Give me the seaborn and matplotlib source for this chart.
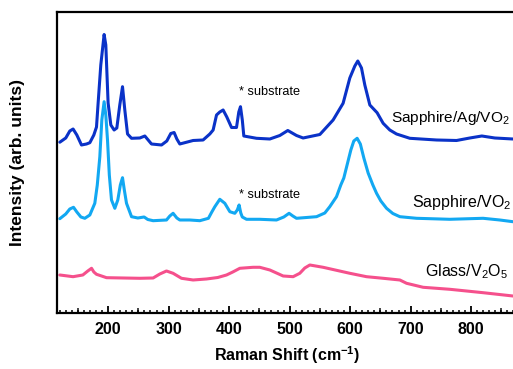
import matplotlib
matplotlib.use('Agg')
import matplotlib.pyplot as plt
from matplotlib.ticker import MultipleLocator, FixedLocator, FuncFormatter
import seaborn as sns
import pandas as pd

# Sapphire/Ag/VO2 (dark blue)
agvo2_shift = [120.2, 130, 136.7, 142.1, 148.3, 156, 164.3, 169.8, 176.4, 180.8, 183.5, 187.9,
               193.4, 196.2, 200, 204.5, 209.9, 214.4, 219.3, 223.8, 227.6, 232.1, 238.7, 252.4,
               260.7, 271.7, 288.3, 297, 303.6, 309.1, 313.6, 318.5, 340.5, 357, 368.1, 373.6,
               379.2, 384.6, 390.1, 396.2, 404, 412.2, 416, 418.8, 421.8, 424.3, 445.3, 467.3,
               483.8, 497, 511.4, 522.3, 550, 571.9, 588.4, 599.5, 607.8, 612.7, 618.8, 624.3,
               632.6, 644.6, 654.6, 665.6, 676.7, 698.7, 742.8, 775.9, 797.9, 817.7, 839.2, 869]
agvo2_int = [170.5, 174.7, 181.7, 183.7, 177.7, 167.7, 168.7, 170, 177.7, 185.7, 209.7, 247.7,
             278.2, 267.7, 209.7, 187.7, 182.7, 184.7, 207.7, 226, 202.7, 178.7, 174.4, 174.7,
             176.7, 168.7, 167.7, 171.7, 179.2, 180.2, 173.7, 168.7, 172.2, 172.7, 178.7, 182.7,
             197.7, 200.7, 202.7, 195.7, 185.2, 185.2, 200.7, 206, 192.7, 176.7, 174.4, 173.7,
             177.2, 182.2, 177.2, 174.7, 178.2, 192.7, 209.4, 234.7, 246.7, 251.7, 244.7, 227.7,
             207.7, 200, 189.4, 182.7, 178.7, 174.4, 172.7, 172.2, 174.7, 176.7, 174.7, 173.7]

# Sapphire/VO2 (light blue)
vo2_shift = [120.2, 130, 136.7, 142.8, 148.3, 155, 161.5, 169.8, 178, 182.1, 186.3, 189.6,
             193.4, 196.2, 199, 202, 205.6, 211.1, 216, 220.2, 223.8, 226.8, 230.4, 238.7,
             249.1, 259.5, 265.6, 274.4, 296.5, 302, 307.4, 313.6, 318.5, 335, 351.6, 365.8,
             371.4, 376.4, 384.6, 392.9, 401.2, 409.4, 413.5, 416.5, 419.3, 421.8, 428.8, 450.7,
             478.3, 490.4, 499.1, 505.3, 511.4, 544.5, 558.2, 566.4, 577.5, 584.6, 589.6, 595.4,
             601.2, 606.1, 611.6, 616.9, 622.7, 629.8, 637.6, 643.7, 650.8, 660.2, 670.6, 682.2,
             709.8, 764.8, 819.8, 847.4, 869]
vo2_int = [94, 98.7, 103.7, 105.4, 100.7, 95.7, 94.4, 97.7, 109.4, 127.7, 156, 192.7,
           211, 197.7, 172.7, 137.7, 112.7, 104.4, 112.7, 127.7, 135, 122.7, 109.4, 96,
           94.7, 95.7, 93.2, 92, 92.7, 96.7, 99.4, 94.7, 92.7, 92.7, 92, 94.4,
           100.7, 106, 113.4, 109.4, 101, 99.4, 102.7, 107.7, 99.7, 95.7, 93.4, 93.4,
           92.7, 95.7, 99.4, 96.7, 94.4, 96, 99.7, 106, 116, 127.7, 134.7, 148.7,
           162.7, 171.7, 174.4, 168.7, 154.7, 139.7, 127.7, 119.4, 111.7, 104.4, 99.2, 96,
           94.4, 93.4, 94.4, 92.7, 91]

# Glass/V2O5 (pink)
v2o5_shift = [120.2, 142.1, 158.2, 166.4, 172.6, 176.4, 180.8, 197.4, 224.8, 252.4, 274.4,
              285.5, 296.5, 307.4, 321.3, 340.5, 362.6, 381.3, 395.7, 406.1, 417.7, 439.6,
              450.7, 467.3, 489.3, 505.8, 516.8, 525.1, 533.4, 555.4, 599.5, 627.1, 654.6,
              682.2, 693.3, 720.7, 764.8, 819.8, 869]
v2o5_int = [37.7, 36, 37.7, 41.7, 44.4, 40.7, 38.4, 35, 34.7, 34.4, 34.7,
            38.7, 41.7, 39.4, 34.4, 32.7, 33.7, 35.2, 37.7, 40.7, 44.4, 45.4,
            45.4, 42.7, 36.7, 36, 39.4, 44.7, 47.7, 45.4, 39.4, 36, 34.4,
            32.7, 29.4, 25.4, 23.4, 20, 16.7]

labels = ['Sapphire/Ag/VO$_2$', 'Sapphire/VO$_2$', 'Glass/V$_2$O$_5$']
colors = ['#0a32c8', '#12a8f2', '#f5508c']

spectra = pd.concat([
    pd.DataFrame({'shift': agvo2_shift, 'intensity': agvo2_int, 'sample': labels[0]}),
    pd.DataFrame({'shift': vo2_shift, 'intensity': vo2_int, 'sample': labels[1]}),
    pd.DataFrame({'shift': v2o5_shift, 'intensity': v2o5_int, 'sample': labels[2]}),
])

sns.set_theme(style='ticks')
plt.rcParams['font.family'] = ['Liberation Sans', 'DejaVu Sans']
plt.rcParams['mathtext.default'] = 'regular'
plt.rcParams['text.color'] = 'black'
plt.rcParams['axes.labelcolor'] = 'black'

fig = plt.figure(figsize=(5.13, 3.69), dpi=100)
ax = fig.add_axes([0.1105, 0.1526, 0.8963, 0.8157])

sns.lineplot(data=spectra, x='shift', y='intensity', hue='sample', palette=colors,
             linewidth=2.2, sort=False, estimator=None, legend=False, ax=ax)

ax.set_xlim(115, 875)
ax.set_ylim(0, 301)

# Spines and ticks
for side in ['left', 'bottom', 'top', 'right']:
    ax.spines[side].set_linewidth(1.6)
    ax.spines[side].set_color('black')
ax.set_yticks([])
ax.xaxis.set_major_locator(MultipleLocator(100))
ax.xaxis.set_minor_locator(MultipleLocator(10))
ax.xaxis.set_major_formatter(FuncFormatter(lambda v, p: '%d' % v))
ax.tick_params(axis='x', which='major', direction='in', length=5, width=1.3, pad=7,
               labelsize=11.5, colors='black')
ax.tick_params(axis='x', which='minor', direction='in', length=2.2, width=1.1, colors='black')
for lab in ax.get_xticklabels():
    lab.set_fontweight('bold')

# medium ticks at the 50s
mid = ax.secondary_xaxis('bottom')
mid.xaxis.set_major_locator(FixedLocator([150, 250, 350, 450, 550, 650, 750, 850]))
mid.tick_params(axis='x', direction='in', length=3.6, width=1.2, labelbottom=False)
mid.spines['bottom'].set_visible(False)

ax.set_xlabel('Raman Shift (cm$^{-1}$)', fontsize=11.5, fontweight='bold')
ax.set_ylabel('Intensity (arb. units)', fontsize=12.5, fontweight='bold')
ax.xaxis.set_label_coords(0.5 * 1.0, -0.105)
ax.yaxis.set_label_coords(-0.07, 0.5)

# Annotations
ax.text(416, 220.7, '* substrate', fontsize=9.2, va='center', ha='left')
ax.text(416, 117.7, '* substrate', fontsize=9.2, va='center', ha='left')
ax.text(668, 194.7, labels[0], fontsize=11.1, va='center', ha='left')
ax.text(702, 109.7, labels[1], fontsize=11.5, va='center', ha='left')
ax.text(723.5, 40.7, labels[2], fontsize=11.5, va='center', ha='left')

plt.savefig('out.png', dpi=100)
